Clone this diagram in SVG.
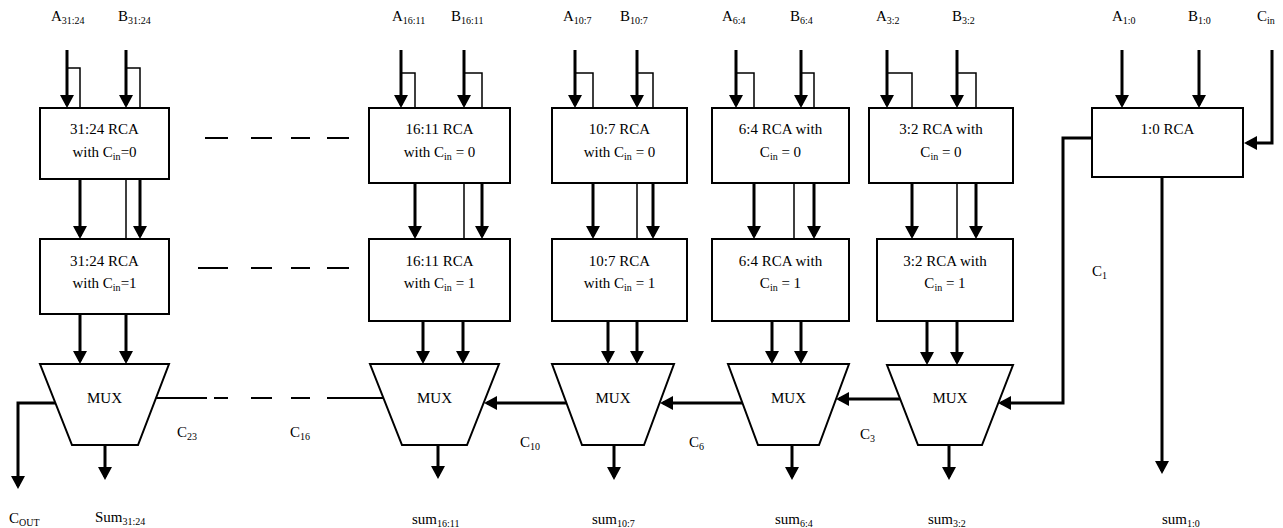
<svg xmlns="http://www.w3.org/2000/svg" width="1283" height="528" viewBox="0 0 1283 528">
<style>
text{font-family:"Liberation Serif","Times New Roman",serif;font-size:15px;fill:#000}
.c{text-anchor:middle}
.sub{font-size:10px}
.box{fill:#fff;stroke:#000;stroke-width:2}
.mux{fill:#fff;stroke:#000;stroke-width:2;stroke-linejoin:miter}
.thick{fill:none;stroke:#000;stroke-width:3;marker-end:url(#ah)}
.thin{fill:none;stroke:#000;stroke-width:1.5}
.dash{fill:none;stroke:#000;stroke-width:2}
</style>
<defs>
<marker id="ah" markerUnits="userSpaceOnUse" markerWidth="14" markerHeight="14" refX="10" refY="7" orient="auto">
<path d="M0,0 L13,7 L0,14 z" fill="#000"/>
</marker>
</defs>
<rect width="1283" height="528" fill="#fff"/>

<g id="connectors">
<!-- 31:24 -->
<path class="thin" d="M67,68 H80 V108 M126,68 H140 V108 M126,179 V239"/>
<path class="thick" d="M67,50 V105"/>
<path class="thick" d="M126,50 V105"/>
<path class="thick" d="M80,179 V236"/>
<path class="thick" d="M140,179 V236"/>
<path class="thick" d="M80,314 V361"/>
<path class="thick" d="M126,314 V361"/>
<path class="thick" d="M105,445 V477"/>
<path class="thick" d="M55,403 H18 V486"/>
<!-- 16:11 -->
<path class="thin" d="M401,73 H415 V108 M464,73 H482 V108 M464,183 V239"/>
<path class="thick" d="M401,50 V105"/>
<path class="thick" d="M464,50 V105"/>
<path class="thick" d="M415,183 V236"/>
<path class="thick" d="M482,183 V236"/>
<path class="thick" d="M423,321 V361"/>
<path class="thick" d="M463,321 V361"/>
<path class="thick" d="M438,445 V476"/>
<!-- 10:7 -->
<path class="thin" d="M575,73 H593 V108 M637,73 H653 V108 M637,183 V239"/>
<path class="thick" d="M575,50 V105"/>
<path class="thick" d="M637,50 V105"/>
<path class="thick" d="M593,183 V236"/>
<path class="thick" d="M653,183 V236"/>
<path class="thick" d="M608,321 V361"/>
<path class="thick" d="M637,321 V361"/>
<path class="thick" d="M614,445 V477"/>
<path class="thick" d="M566,403 H487"/>
<!-- 6:4 -->
<path class="thin" d="M736,73 H754 V108 M801,73 H814 V108 M794,183 V239"/>
<path class="thick" d="M736,50 V105"/>
<path class="thick" d="M801,50 V105"/>
<path class="thick" d="M754,183 V236"/>
<path class="thick" d="M814,183 V236"/>
<path class="thick" d="M772,321 V361"/>
<path class="thick" d="M801,321 V361"/>
<path class="thick" d="M792,445 V477"/>
<path class="thick" d="M742,403 H663"/>
<!-- 3:2 -->
<path class="thin" d="M887,73 H912 V108 M957,73 H976 V108 M957,183 V239"/>
<path class="thick" d="M887,50 V105"/>
<path class="thick" d="M957,50 V105"/>
<path class="thick" d="M912,183 V236"/>
<path class="thick" d="M976,183 V236"/>
<path class="thick" d="M927,321 V362"/>
<path class="thick" d="M957,321 V362"/>
<path class="thick" d="M949,445 V477"/>
<path class="thick" d="M900,399 H839"/>
<!-- 1:0 -->
<path class="thick" d="M1122,50 V105"/>
<path class="thick" d="M1199,50 V105"/>
<path class="thick" d="M1272,50 V143 H1247"/>
<path class="thick" d="M1092,138 H1063 V403 H1001"/>
<path class="thick" d="M1162,177 V471"/>
<!-- dashed continuation -->
<path class="dash" d="M205,138 H228 M251,138 H272 M291,138 H310 M327,138 H349"/>
<path class="dash" d="M198,268 H228 M251,268 H272 M291,268 H310 M327,268 H349"/>
<path class="dash" d="M156,398 H207 M214,398 H228 M251,398 H272 M291,398 H310 M327,398 H383"/>
</g>

<g id="rca31_24_0"><rect class="box" x="40" y="108" width="129" height="71"/>
<text class="c" x="104.5" y="134">31:24 RCA</text>
<text class="c" x="104.5" y="157">with C<tspan class="sub" dy="3">in</tspan><tspan dy="-3">=0</tspan></text></g>
<g id="rca31_24_1"><rect class="box" x="40" y="239" width="129" height="75"/>
<text class="c" x="104.5" y="266">31:24 RCA</text>
<text class="c" x="104.5" y="288">with C<tspan class="sub" dy="3">in</tspan><tspan dy="-3">=1</tspan></text></g>
<g id="mux31_24"><polygon class="mux" points="40,364 169,364 138,445 72,445"/>
<text class="c" x="104.5" y="403">MUX</text></g>

<g id="rca16_11_0"><rect class="box" x="369" y="108" width="141" height="75"/>
<text class="c" x="439.5" y="134">16:11 RCA</text>
<text class="c" x="439.5" y="157">with C<tspan class="sub" dy="3">in</tspan><tspan dy="-3"> = 0</tspan></text></g>
<g id="rca16_11_1"><rect class="box" x="369" y="239" width="141" height="82"/>
<text class="c" x="439.5" y="266">16:11 RCA</text>
<text class="c" x="439.5" y="288">with C<tspan class="sub" dy="3">in</tspan><tspan dy="-3"> = 1</tspan></text></g>
<g id="mux16_11"><polygon class="mux" points="370,364 499,364 467,445 402,445"/>
<text class="c" x="434.5" y="403">MUX</text></g>

<g id="rca10_7_0"><rect class="box" x="552" y="108" width="135" height="75"/>
<text class="c" x="619.5" y="134">10:7 RCA</text>
<text class="c" x="619.5" y="157">with C<tspan class="sub" dy="3">in</tspan><tspan dy="-3"> = 0</tspan></text></g>
<g id="rca10_7_1"><rect class="box" x="552" y="239" width="135" height="82"/>
<text class="c" x="619.5" y="266">10:7 RCA</text>
<text class="c" x="619.5" y="288">with C<tspan class="sub" dy="3">in</tspan><tspan dy="-3"> = 1</tspan></text></g>
<g id="mux10_7"><polygon class="mux" points="552,364 674,364 644,445 582,445"/>
<text class="c" x="613" y="403">MUX</text></g>

<g id="rca6_4_0"><rect class="box" x="712" y="108" width="137" height="75"/>
<text class="c" x="780.5" y="134">6:4 RCA with</text>
<text class="c" x="780.5" y="157">C<tspan class="sub" dy="3">in</tspan><tspan dy="-3"> = 0</tspan></text></g>
<g id="rca6_4_1"><rect class="box" x="712" y="239" width="137" height="82"/>
<text class="c" x="780.5" y="266">6:4 RCA with</text>
<text class="c" x="780.5" y="288">C<tspan class="sub" dy="3">in</tspan><tspan dy="-3"> = 1</tspan></text></g>
<g id="mux6_4"><polygon class="mux" points="728,364 849,364 819,445 758,445"/>
<text class="c" x="788.5" y="403">MUX</text></g>

<g id="rca3_2_0"><rect class="box" x="869" y="108" width="144" height="75"/>
<text class="c" x="941" y="134">3:2 RCA with</text>
<text class="c" x="941" y="157">C<tspan class="sub" dy="3">in</tspan><tspan dy="-3"> = 0</tspan></text></g>
<g id="rca3_2_1"><rect class="box" x="877" y="239" width="136" height="82"/>
<text class="c" x="945" y="266">3:2 RCA with</text>
<text class="c" x="945" y="288">C<tspan class="sub" dy="3">in</tspan><tspan dy="-3"> = 1</tspan></text></g>
<g id="mux3_2"><polygon class="mux" points="887,365 1013,365 982,445 918,445"/>
<text class="c" x="950" y="403">MUX</text></g>

<g id="rca1_0"><rect class="box" x="1092" y="108" width="151" height="69"/>
<text class="c" x="1167.5" y="134">1:0 RCA</text></g>

<g id="labels">
<text x="51" y="21">A<tspan class="sub" dy="3">31:24</tspan></text>
<text x="118" y="21">B<tspan class="sub" dy="3">31:24</tspan></text>
<text x="392" y="21">A<tspan class="sub" dy="3">16:11</tspan></text>
<text x="451" y="21">B<tspan class="sub" dy="3">16:11</tspan></text>
<text x="563" y="21">A<tspan class="sub" dy="3">10:7</tspan></text>
<text x="620" y="21">B<tspan class="sub" dy="3">10:7</tspan></text>
<text x="722" y="21">A<tspan class="sub" dy="3">6:4</tspan></text>
<text x="790" y="21">B<tspan class="sub" dy="3">6:4</tspan></text>
<text x="876" y="21">A<tspan class="sub" dy="3">3:2</tspan></text>
<text x="952" y="21">B<tspan class="sub" dy="3">3:2</tspan></text>
<text x="1112" y="21">A<tspan class="sub" dy="3">1:0</tspan></text>
<text x="1188" y="21">B<tspan class="sub" dy="3">1:0</tspan></text>
<text x="1257" y="21">C<tspan class="sub" dy="3">in</tspan></text>
<text x="177" y="437">C<tspan class="sub" dy="3">23</tspan></text>
<text x="290" y="437">C<tspan class="sub" dy="3">16</tspan></text>
<text x="520" y="447">C<tspan class="sub" dy="3">10</tspan></text>
<text x="689" y="447">C<tspan class="sub" dy="3">6</tspan></text>
<text x="860" y="439">C<tspan class="sub" dy="3">3</tspan></text>
<text x="1092" y="276">C<tspan class="sub" dy="3">1</tspan></text>
<text x="9" y="523">C<tspan class="sub" dy="3">OUT</tspan></text>
<text x="95" y="522">Sum<tspan class="sub" dy="3">31:24</tspan></text>
<text x="412" y="524">sum<tspan class="sub" dy="3">16:11</tspan></text>
<text x="592" y="524">sum<tspan class="sub" dy="3">10:7</tspan></text>
<text x="775" y="524">sum<tspan class="sub" dy="3">6:4</tspan></text>
<text x="928" y="524">sum<tspan class="sub" dy="3">3:2</tspan></text>
<text x="1162" y="524">sum<tspan class="sub" dy="3">1:0</tspan></text>
</g>
</svg>
